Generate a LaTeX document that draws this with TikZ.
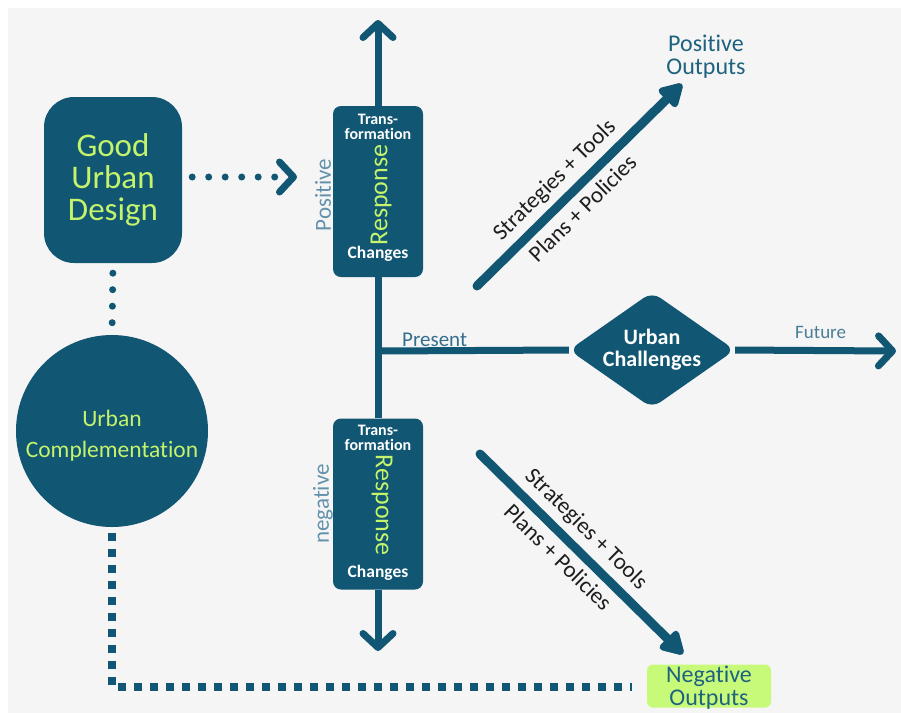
\documentclass[tikz,border=0pt]{standalone}
\usepackage{fontspec}
\setmainfont{Carlito}[Ligatures=NoCommon]
\usetikzlibrary{arrows.meta,shapes.geometric,calc}
\definecolor{teal1}{RGB}{17,86,114}
\definecolor{lgreen}{RGB}{196,243,108}
\definecolor{limefill}{RGB}{200,250,122}
\definecolor{lblue}{RGB}{100,146,172}
\definecolor{presc}{RGB}{52,110,140}
\definecolor{futc}{RGB}{75,125,150}
\definecolor{outc}{RGB}{30,98,128}
\definecolor{bggray}{RGB}{245,245,245}
\definecolor{txtdark}{RGB}{30,30,30}
\begin{document}
\begin{tikzpicture}[x=1pt,y=-1pt,
  tealfill/.style={fill=teal1,draw=none},
  respbox/.style={tealfill,rounded corners=8pt,minimum width=90pt,minimum height=171pt,inner sep=0pt},
  boxtop/.style={text=white,align=center,inner sep=0pt,font=\bfseries\fontsize{16}{15.5}\selectfont},
  boxbot/.style={text=white,inner sep=0pt,font=\bfseries\fontsize{17.5}{17.5}\selectfont},
  resptxt/.style={text=lgreen,inner sep=0pt,font=\fontsize{26}{26}\selectfont},
  sidelbl/.style={text=lblue,rotate=90,inner sep=0pt,font=\fontsize{23}{23}\selectfont},
  mainline/.style={draw=teal1,line width=7pt},
  chev/.style={-{Straight Barb[length=14pt,width=30pt,round]}},
  diag/.style={draw=teal1,line width=9pt,line cap=round,-{Triangle[length=26pt,width=28pt,round]}},
  diaglbl/.style={text=txtdark,font=\fontsize{23}{23}\selectfont,inner sep=6pt},
  rounddots/.style={draw=teal1,line width=7pt,line cap=round,dash pattern=on 0pt off 16.5pt},
  sqdots/.style={draw=teal1,line width=8pt,dash pattern=on 8pt off 8pt}
]
\useasboundingbox (0,0) rectangle (901,713);
\fill[bggray] (8,8) rectangle (901,713);

% left side
\node[tealfill,rounded corners=30pt,minimum width=138pt,minimum height=166pt,text=lgreen,
      align=center,font=\fontsize{33}{32}\selectfont] (gud) at (113,180) {Good\\Urban\\Design};
\node[circle,tealfill,minimum size=192pt,inner sep=0pt,text=lgreen,align=center,
      font=\fontsize{23.5}{31}\selectfont] (uc) at (112,431) {};
\node[text=lgreen,align=center,inner sep=0pt,font=\fontsize{23.5}{31}\selectfont] (uctxt) at (112,436) {Urban\\Complementation};

% response boxes
\node[respbox] (pbox) at (378,191.5) {};
\node[boxtop] (ptop) at (378,127) {Trans-\\formation};
\node[resptxt,rotate=90] (presp) at (381,195) {Response};
\node[boxbot] (pchg) at (378,254) {Changes};
\node[sidelbl] (plab) at (323,195) {Positive};

\node[respbox] (nbox) at (378,504) {};
\node[boxtop] (ntop) at (378,438) {Trans-\\formation};
\node[resptxt,rotate=-90] (nresp) at (382,505) {Response};
\node[boxbot] (nchg) at (378,573) {Changes};
\node[sidelbl] (nlab) at (323,504) {negative};

% axes
\coordinate (ttip) at (378,20);
\coordinate (btip) at (378,651);
\coordinate (jn) at (378,351);
\coordinate (ftip) at (896,351);
\draw[mainline,chev] (pbox.north) -- (ttip);
\draw[mainline] (pbox.south) -- (nbox.north);
\draw[mainline,chev] (nbox.south) -- (btip);

\node[diamond,tealfill,minimum width=166pt,minimum height=116pt,inner sep=0pt,aspect=1.43,
      rounded corners=10pt] (uch) at (652,350) {};
\node[text=white,align=center,inner sep=0pt,font=\bfseries\fontsize{22}{22}\selectfont]
      (uchtxt) at (652,350) {Urban\\Challenges};
\draw[mainline] (jn) -- (uch.west);
\draw[mainline,chev] (uch.east) -- (ftip);

\node[text=presc,anchor=base west,inner sep=0pt,font=\fontsize{21}{21}\selectfont] (pres) at (402,346) {Present};
\node[text=futc,anchor=base west,inner sep=0pt,font=\fontsize{19}{19}\selectfont] (fut) at (795,338) {Future};

% outputs
\node[text=outc,align=center,inner sep=0pt,font=\fontsize{24}{23}\selectfont] (pout) at (706,57) {Positive\\Outputs};
\node[fill=limefill,rounded corners=6pt,minimum width=124pt,minimum height=43pt,inner sep=0pt]
      (nout) at (709,686) {};
\node[text=outc,align=center,inner sep=0pt,font=\fontsize{24}{23}\selectfont] (nouttxt) at (709,688) {Negative\\Outputs};

\coordinate (pa) at (477,286);
\coordinate (pb) at (682,84);
\draw[diag] (pa) -- (pb)
  node[diaglbl,pos=0.45,sloped,above] (pst) {Strategies + Tools}
  node[diaglbl,pos=0.45,sloped,below] (ppl) {Plans + Policies};
\coordinate (na) at (480,454);
\coordinate (nb) at (683,654);
\draw[diag] (na) -- (nb)
  node[diaglbl,pos=0.45,sloped,above] (nst) {Strategies + Tools}
  node[diaglbl,pos=0.45,sloped,below] (npl) {Plans + Policies};

% dotted connectors
\coordinate (dstart) at ($(gud.east)+(10,-3)$);
\coordinate (dtip) at (297,177);
\draw[rounddots,chev] (dstart) -- (dtip);
\draw[rounddots,shorten <=10pt,shorten >=4pt] (gud.south) -- (uc.north);
\coordinate (corner) at (112,687);
\coordinate (nend) at (632,687);
\draw[sqdots,shorten <=6pt] (uc.south) -- (corner) -- (nend);
\end{tikzpicture}
\end{document}
